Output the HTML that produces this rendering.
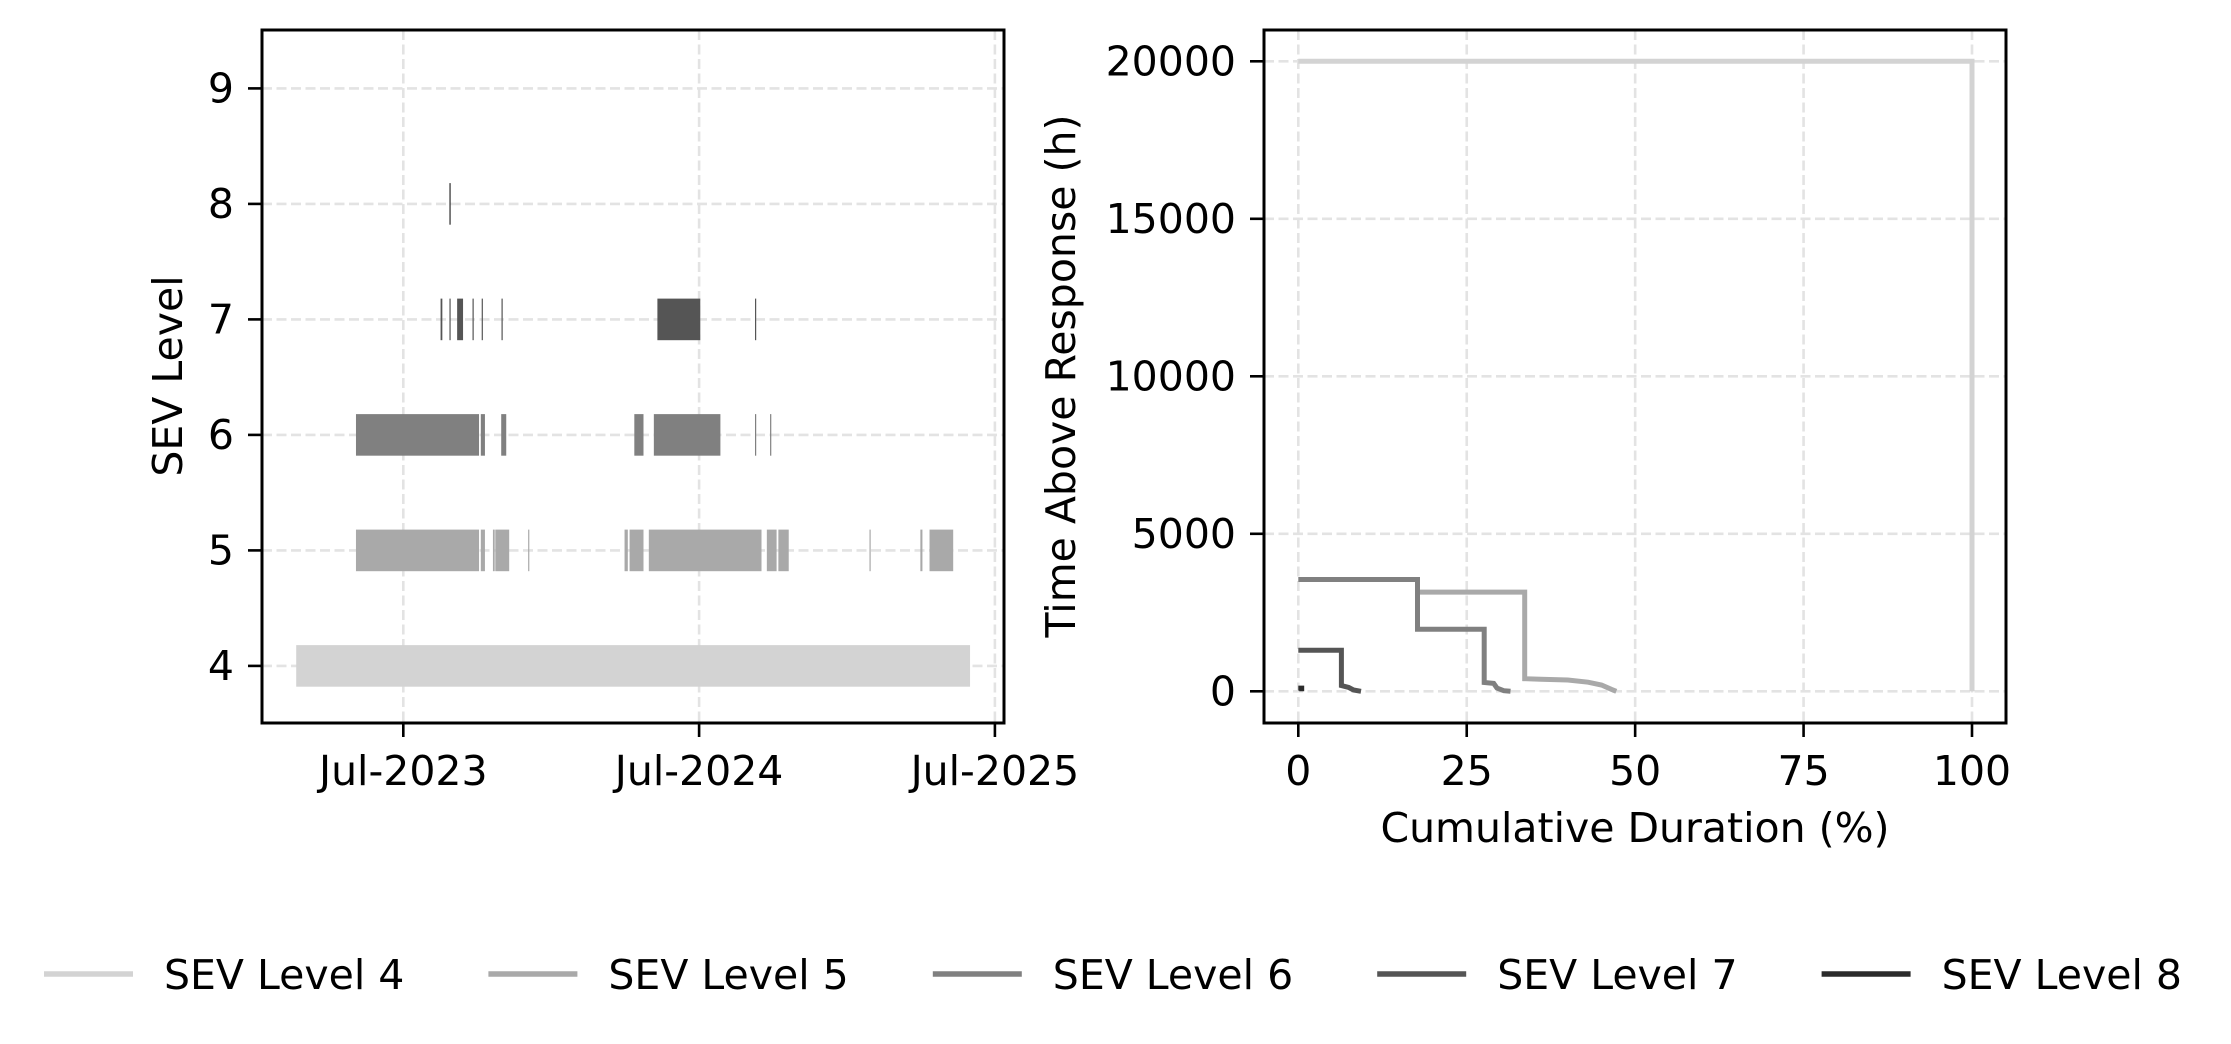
<!DOCTYPE html>
<html><head><meta charset="utf-8"><style>
html,body{margin:0;padding:0;background:#fff;}
svg{display:block;font-family:"DejaVu Sans","Liberation Sans",sans-serif;}
</style></head><body>
<svg id="chart" width="2231" height="1044" viewBox="0 0 2231 1044" xmlns="http://www.w3.org/2000/svg">
<g id="left"></g>
<g id="right"></g>
<g id="legend"></g>
</svg>
<script>
// ---- data ----
const levelColors = ['#d3d3d3', '#a9a9a9', '#808080', '#555555', '#2b2b2b'];
const levelNames = ['SEV Level 4', 'SEV Level 5', 'SEV Level 6', 'SEV Level 7', 'SEV Level 8'];
const yTicksLeft = [4, 5, 6, 7, 8, 9];
const xTickYears = [2023.5, 2024.5, 2025.5];
const xTickLabelsLeft = ['Jul-2023', 'Jul-2024', 'Jul-2025'];
// segments per level: [start, end] in fractional years
const sev4Segments = [[2023.138, 2025.416]];
const sev5Segments = [[2023.340, 2023.756], [2023.762, 2023.776], [2023.803, 2023.809], [2023.811, 2023.858], [2023.922, 2023.924],
  [2024.248, 2024.259], [2024.265, 2024.312], [2024.330, 2024.711], [2024.729, 2024.762], [2024.768, 2024.803],
  [2025.076, 2025.078], [2025.248, 2025.255], [2025.279, 2025.359]];
const sev6Segments = [[2023.340, 2023.756], [2023.762, 2023.776], [2023.831, 2023.848], [2024.281, 2024.312], [2024.347, 2024.572],
  [2024.689, 2024.691], [2024.740, 2024.742]];
const sev7Segments = [[2023.626, 2023.632], [2023.656, 2023.660], [2023.682, 2023.702], [2023.734, 2023.737], [2023.765, 2023.768],
  [2023.832, 2023.835], [2024.359, 2024.504], [2024.689, 2024.692]];
const sev8Segments = [[2023.656, 2023.658]];
// right panel step curves
const yTicksRight = [0, 5000, 10000, 15000, 20000];
const xTicksRight = [0, 25, 50, 75, 100];
const sev4X = [0, 100, 100];
const sev4Y = [20000, 20000, 0];
const sev5X = [17.7, 33.6, 33.6, 36, 40, 43, 45, 46.5, 47.2];
const sev5Y = [3150, 3150, 400, 380, 360, 290, 200, 60, 0];
const sev6X = [0, 17.7, 17.7, 27.6, 27.6, 29, 29.5, 30.5, 31.5];
const sev6Y = [3550, 3550, 1970, 1970, 280, 250, 100, 20, 0];
const sev7X = [0, 6.4, 6.4, 7.5, 8.2, 9.3];
const sev7Y = [1300, 1300, 180, 120, 40, 0];
const sev8X = [0, 0.5, 0.5];
const sev8Y = [100, 100, 0];

const NS = 'http://www.w3.org/2000/svg';
const FS = 41;
function mk(tag, attrs, parent) {
  const e = document.createElementNS(NS, tag);
  for (const k in attrs) e.setAttribute(k, attrs[k]);
  parent.appendChild(e);
  return e;
}
const GRID = {stroke: '#e3e3e3', 'stroke-width': 2.6, 'stroke-dasharray': '10,4.5'};

// ---- left panel ----
const L = document.getElementById('left');
const lx0 = 262, lx1 = 1004, ly0 = 30, ly1 = 723;
const xL = y => 403.3 + (y - 2023.5) * 295.8;
const yL = v => 665.9 - (v - 4) * 115.5;
yTicksLeft.forEach(v => {
  const g = mk('line', Object.assign({x1: lx0, x2: lx1, y1: yL(v), y2: yL(v)}, GRID), L);
  
  
  const t = mk('line', {x1: lx0 - 14, x2: lx0, y1: yL(v), y2: yL(v), stroke: '#000', 'stroke-width': 2.6}, L);
  
  
  const tx = mk('text', {x: lx0 - 28, y: yL(v) + 14, 'font-size': FS, 'text-anchor': 'end'}, L);
  tx.textContent = v;
  
  
});
xTickYears.forEach((yr, i) => {
  const g = mk('line', Object.assign({x1: xL(yr), x2: xL(yr), y1: ly0, y2: ly1}, GRID), L);
  
  
  const t = mk('line', {x1: xL(yr), x2: xL(yr), y1: ly1, y2: ly1 + 14, stroke: '#000', 'stroke-width': 2.6}, L);
  
  
  const tx = mk('text', {x: xL(yr), y: ly1 + 62, 'font-size': FS, 'text-anchor': 'middle'}, L);
  tx.textContent = xTickLabelsLeft[i];
  
  
});
const allSegs = [sev4Segments, sev5Segments, sev6Segments, sev7Segments, sev8Segments];
allSegs.forEach((segs, li) => {
  const lvl = 4 + li;
  segs.forEach(s => {
    const r = mk('rect', {x: xL(s[0]), y: yL(lvl + 0.18), width: Math.max(1.2, xL(s[1]) - xL(s[0])), height: yL(lvl - 0.18) - yL(lvl + 0.18), fill: levelColors[li]}, L);
    
    
  });
});
const lf = mk('rect', {x: lx0, y: ly0, width: lx1 - lx0, height: ly1 - ly0, fill: 'none', stroke: '#000', 'stroke-width': 3}, L);


const yl = mk('text', {x: 0, y: 0, 'font-size': FS, 'text-anchor': 'middle', transform: 'translate(182,376) rotate(-90)'}, L);
yl.textContent = 'SEV Level';



// ---- right panel ----
const R = document.getElementById('right');
const rx0 = 1264, rx1 = 2006, ry0 = 30, ry1 = 723;
const xR = v => 1298.3 + v * 6.737;
const yR = v => 691.3 - v * 0.0315;
yTicksRight.forEach(v => {
  const g = mk('line', Object.assign({x1: rx0, x2: rx1, y1: yR(v), y2: yR(v)}, GRID), R);
  
  
  const t = mk('line', {x1: rx0 - 14, x2: rx0, y1: yR(v), y2: yR(v), stroke: '#000', 'stroke-width': 2.6}, R);
  
  
  const tx = mk('text', {x: rx0 - 28, y: yR(v) + 14, 'font-size': FS, 'text-anchor': 'end'}, R);
  tx.textContent = v;
  
  
});
xTicksRight.forEach(v => {
  const g = mk('line', Object.assign({x1: xR(v), x2: xR(v), y1: ry0, y2: ry1}, GRID), R);
  
  
  const t = mk('line', {x1: xR(v), x2: xR(v), y1: ry1, y2: ry1 + 14, stroke: '#000', 'stroke-width': 2.6}, R);
  
  
  const tx = mk('text', {x: xR(v), y: ry1 + 62, 'font-size': FS, 'text-anchor': 'middle'}, R);
  tx.textContent = v;
  
  
});
const curves = [[sev4X, sev4Y], [sev5X, sev5Y], [sev6X, sev6Y], [sev7X, sev7Y], [sev8X, sev8Y]];
curves.forEach((c, i) => {
  const pts = c[0].map((x, j) => xR(x).toFixed(1) + ',' + yR(c[1][j]).toFixed(1)).join(' ');
  const p = mk('polyline', {points: pts, fill: 'none', stroke: levelColors[i], 'stroke-width': 5, 'stroke-linejoin': 'miter'}, R);
  
  
});
const rf = mk('rect', {x: rx0, y: ry0, width: rx1 - rx0, height: ry1 - ry0, fill: 'none', stroke: '#000', 'stroke-width': 3}, R);


const ryl = mk('text', {x: 0, y: 0, 'font-size': FS, 'text-anchor': 'middle', transform: 'translate(1075,376) rotate(-90)'}, R);
ryl.textContent = 'Time Above Response (h)';


const rxl = mk('text', {x: 1635, y: 842, 'font-size': FS, 'text-anchor': 'middle'}, R);
rxl.textContent = 'Cumulative Duration (%)';



// ---- legend ----
const G = document.getElementById('legend');
levelNames.forEach((n, i) => {
  const x0 = 44 + i * 444.4;
  const ln = mk('line', {x1: x0, x2: x0 + 89, y1: 974, y2: 974, stroke: levelColors[i], 'stroke-width': 5.5}, G);
  
  
  const t = mk('text', {x: x0 + 120, y: 989, 'font-size': FS}, G);
  t.textContent = n;
  
  
});
</script>
</body></html>
